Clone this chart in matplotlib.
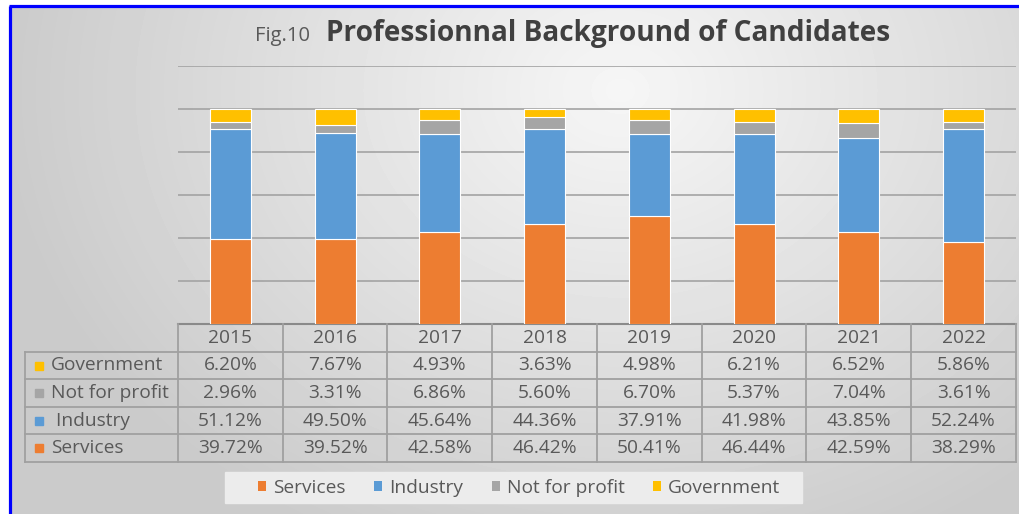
import numpy as np
import matplotlib.pyplot as plt
from matplotlib.patches import Rectangle, Patch

plt.rcParams['font.family'] = ['Open Sans', 'DejaVu Sans']

years = ['2015', '2016', '2017', '2018', '2019', '2020', '2021', '2022']
services = [39.72, 39.52, 42.58, 46.42, 50.41, 46.44, 42.59, 38.29]
industry = [51.12, 49.50, 45.64, 44.36, 37.91, 41.98, 43.85, 52.24]
not_for_profit = [2.96, 3.31, 6.86, 5.60, 6.70, 5.37, 7.04, 3.61]
government = [6.20, 7.67, 4.93, 3.63, 4.98, 6.21, 6.52, 5.86]

series_names = ['Services', 'Industry', 'Not for profit', 'Government']
series_vals = [services, industry, not_for_profit, government]
series_colors = ['#ED7D31', '#5B9BD5', '#A5A5A5', '#FFC000']

W, H = 1019, 514
fig = plt.figure(figsize=(W / 100, H / 100), dpi=100)

# background layer, pixel coordinates (y down)
bg = fig.add_axes([0, 0, 1, 1], zorder=0)
bg.set_xlim(0, W)
bg.set_ylim(H, 0)
bg.axis('off')
yy, xx = np.mgrid[0:H, 0:W]
r = np.sqrt(((xx - 620) / 620) ** 2 + ((yy - 90) / 500) ** 2)
shade = 0.965 - 0.17 * np.clip(r, 0, 1)
bg.imshow(shade, cmap='gray', vmin=0, vmax=1, extent=(0, W, H, 0),
          aspect='auto', interpolation='bilinear')
bg.add_patch(Rectangle((0, 0), 10, H, color='white', zorder=2))
bg.add_patch(Rectangle((0, 0), W, 6, color='white', zorder=2))
bg.plot([10, 10], [6, H], color='#0000ff', lw=2.3, zorder=3, solid_capstyle='butt')
bg.plot([9, W], [6, 6], color='#0000ff', lw=2.3, zorder=3, solid_capstyle='butt')

# title
bg.text(255, 41, 'Fig.10', fontsize=14.5, color='#595959', va='baseline', ha='left')
bg.text(326, 41, 'Professionnal Background of Candidates', fontsize=20.2,
        fontweight='bold', color='#404040', va='baseline', ha='left')

# stacked bars
x0, x1, ytop, ybot = 178, 1016, 66, 324
ax = fig.add_axes([x0 / W, 1 - ybot / H, (x1 - x0) / W, (ybot - ytop) / H], zorder=1)
ax.patch.set_alpha(0)
x = np.arange(len(years))
bottom = np.zeros(len(years))
for name, vals, color in zip(series_names, series_vals, series_colors):
    ax.bar(x, vals, 0.39, bottom=bottom, color=color, edgecolor='white',
           linewidth=0.8, label=name, zorder=3)
    bottom += np.array(vals)
ax.set_xlim(-0.5, len(years) - 0.5)
ax.set_ylim(0, 120)
ax.set_yticks(range(20, 121, 20))
ax.yaxis.grid(True, color='#a3a3a3', lw=1.2)
ax.set_axisbelow(True)
ax.tick_params(left=False, bottom=False, labelleft=False, labelbottom=False)
for s in ax.spines.values():
    s.set_visible(False)

# data table underneath
line_c = '#a0a0a0'
txt_c = '#595959'
fs = 13.8
colw = (x1 - x0) / len(years)
rows_y = [324, 352, 379, 407, 434, 462]
lab_x0 = 25
bg.plot([x0, x1], [rows_y[0], rows_y[0]], color='#8a8a8a', lw=1.5, zorder=4)
for yv in rows_y[1:]:
    bg.plot([lab_x0, x1], [yv, yv], color=line_c, lw=1.3, zorder=4)
bg.plot([lab_x0, lab_x0], [rows_y[1], rows_y[-1]], color=line_c, lw=1.3, zorder=4)
for i in range(len(years) + 1):
    xv = x0 + i * colw
    bg.plot([xv, xv], [rows_y[0], rows_y[-1]], color=line_c, lw=1.3, zorder=4)
for i, yr in enumerate(years):
    bg.text(x0 + (i + 0.5) * colw, (rows_y[0] + rows_y[1]) / 2, yr,
            fontsize=fs, color=txt_c, ha='center', va='center', zorder=5)

table_order = [3, 2, 1, 0]
for r_i, k in enumerate(table_order):
    yc = (rows_y[r_i + 1] + rows_y[r_i + 2]) / 2
    bg.add_patch(Rectangle((35, yc - 4), 8, 8, color=series_colors[k], zorder=5))
    label = ' ' + series_names[k] if series_names[k] == 'Industry' else series_names[k]
    bg.text(51, yc, label, fontsize=fs, color=txt_c, ha='left', va='center', zorder=5)
    for i, v in enumerate(series_vals[k]):
        bg.text(x0 + (i + 0.5) * colw, yc, f'{v:.2f}%', fontsize=fs,
                color=txt_c, ha='center', va='center', zorder=5)

# legend
bg.add_patch(Rectangle((225, 472), 577, 31, color='#ececec', zorder=4))
handles = [Patch(facecolor=c, edgecolor='none') for c in series_colors]
fig.legend(handles, series_names, ncol=4, loc='center',
           bbox_to_anchor=(519 / W, 1 - 488 / H), frameon=False,
           handlelength=0.42, handleheight=0.42, handletextpad=0.36,
           columnspacing=1.5, fontsize=fs, labelcolor=txt_c)

fig.savefig('out.png', dpi=100)
